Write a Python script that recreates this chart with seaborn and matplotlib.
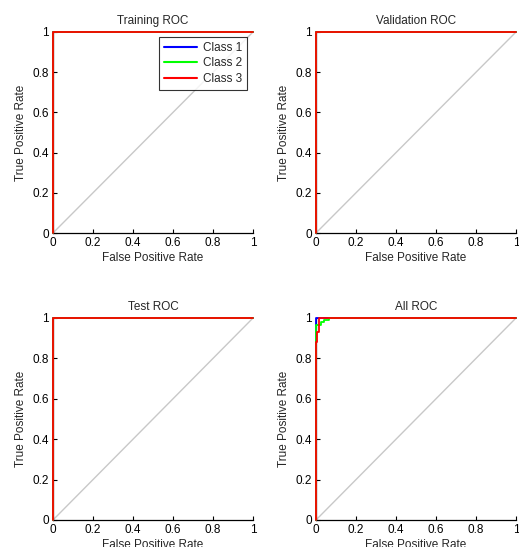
import numpy as np
import pandas as pd
import matplotlib
matplotlib.use("Agg")
import matplotlib.pyplot as plt
import seaborn as sns

# ROC curves
titles = ["Training ROC", "Validation ROC", "Test ROC", "All ROC"]
classes = ["Class 1", "Class 2", "Class 3"]
colors = ["#0000ff", "#00ff00", "#ff0000"]

perfect_fpr = [0, 0, 1]
perfect_tpr = [0, 1, 1]

all_fpr = {
    "Class 1": [0, 0, 1],
    "Class 2": [0, 0, 0.027, 0.027, 0.042, 0.042, 0.067, 0.067, 1],
    "Class 3": [0, 0, 0.005, 0.005, 0.013, 0.013, 1],
}
all_tpr = {
    "Class 1": [0, 1, 1],
    "Class 2": [0, 0.965, 0.965, 0.98, 0.98, 0.99, 0.99, 1, 1],
    "Class 3": [0, 0.88, 0.88, 0.93, 0.93, 1, 1],
}

ticks = [0, 0.2, 0.4, 0.6, 0.8, 1]
tick_labels = ["0", "0.2", "0.4", "0.6", "0.8", "1"]

sns.set_style("white")
plt.rcParams["font.family"] = ["Liberation Sans", "DejaVu Sans"]
plt.rcParams["font.size"] = 8.5

fig = plt.figure(figsize=(5.19, 5.47), dpi=100)
positions = [
    [53 / 519, 1 - 233 / 547, 200 / 519, 201 / 547],
    [316 / 519, 1 - 233 / 547, 200 / 519, 201 / 547],
    [53 / 519, 1 - 520 / 547, 200 / 519, 202 / 547],
    [316 / 519, 1 - 520 / 547, 200 / 519, 202 / 547],
]

for i, title in enumerate(titles):
    ax = fig.add_axes(positions[i])
    rows = []
    for c in classes:
        if title == "All ROC":
            fpr, tpr = all_fpr[c], all_tpr[c]
        else:
            fpr, tpr = perfect_fpr, perfect_tpr
        for x, y in zip(fpr, tpr):
            rows.append({"cls": c, "fpr": x, "tpr": y})
    df = pd.DataFrame(rows)

    # diagonal reference line
    ax.plot([0, 1], [0, 1], color="#c8c8c8", lw=1.0, zorder=1)
    sns.lineplot(data=df, x="fpr", y="tpr", hue="cls", palette=colors,
                 hue_order=classes, sort=False, estimator=None, lw=1.3,
                 ax=ax, legend=(i == 0), zorder=3)
    for ln in ax.lines:
        ln.set_clip_on(False)

    ax.set_xlim(0, 1)
    ax.set_ylim(0, 1)
    ax.set_xticks(ticks)
    ax.set_xticklabels(tick_labels)
    ax.set_yticks(ticks)
    ax.set_yticklabels(tick_labels)
    ax.tick_params(direction="in", length=3, width=0.8, pad=3, labelsize=8.5,
                   bottom=True, left=True, colors="black")
    for s in ["top", "right"]:
        ax.spines[s].set_visible(False)
    for s in ["left", "bottom"]:
        ax.spines[s].set_color("black")
        ax.spines[s].set_linewidth(0.9)
    ax.set_title(title, fontsize=8.5, pad=6)
    ax.set_xlabel("False Positive Rate", fontsize=8.5, labelpad=2)
    ax.set_ylabel("True Positive Rate", fontsize=8.5, labelpad=4)

    if i == 0:
        leg = ax.legend(loc="upper right", bbox_to_anchor=(0.97, 0.975),
                        frameon=True, fancybox=False, edgecolor="black",
                        fontsize=8.5, handlelength=2.8, handletextpad=0.5,
                        borderpad=0.4, labelspacing=0.3, borderaxespad=0)
        leg.get_frame().set_linewidth(0.8)
        for h in leg.get_lines():
            h.set_linewidth(1.5)

fig.savefig("out.png", dpi=100)
